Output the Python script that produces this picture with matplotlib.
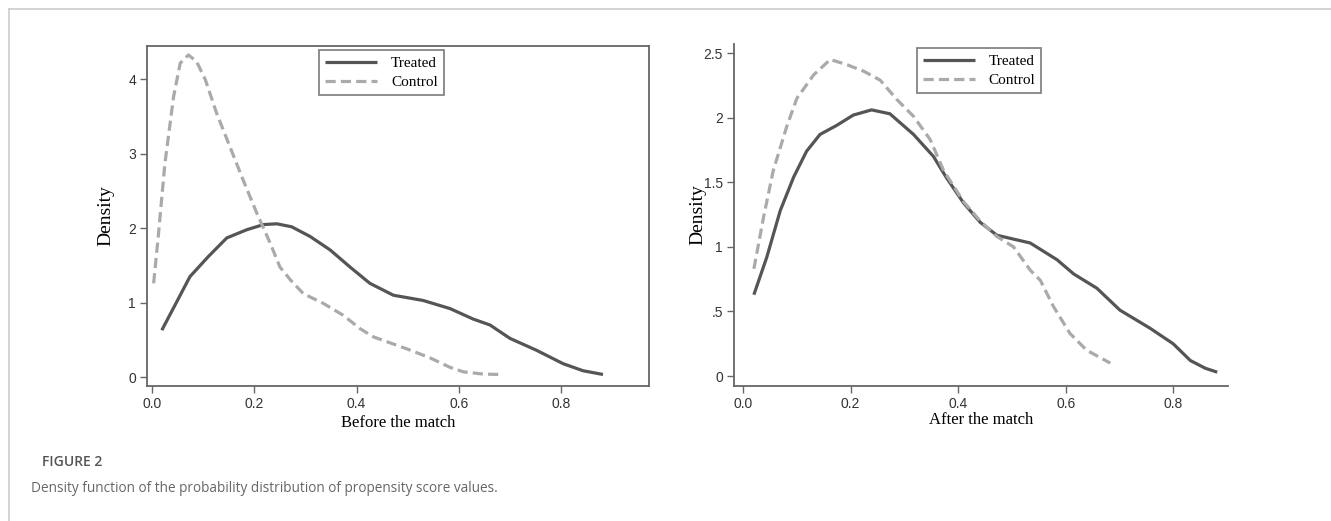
import matplotlib
matplotlib.use("Agg")
import matplotlib.pyplot as plt
from matplotlib.lines import Line2D

# Before the match
before_treated_x = [0.019, 0.074, 0.110, 0.146, 0.185, 0.218, 0.244, 0.273, 0.309, 0.348,
                    0.387, 0.426, 0.472, 0.530, 0.583, 0.628, 0.661, 0.700, 0.752, 0.804,
                    0.843, 0.882]
before_treated_y = [0.63, 1.35, 1.62, 1.87, 1.98, 2.05, 2.06, 2.02, 1.89, 1.71,
                    1.48, 1.26, 1.10, 1.03, 0.92, 0.78, 0.70, 0.52, 0.36, 0.18,
                    0.085, 0.035]
before_control_x = [0.003, 0.012, 0.025, 0.042, 0.055, 0.071, 0.087, 0.104, 0.126, 0.152,
                    0.178, 0.205, 0.231, 0.250, 0.270, 0.296, 0.335, 0.374, 0.407, 0.433,
                    0.498, 0.543, 0.583, 0.609, 0.648, 0.680]
before_control_y = [1.26, 1.89, 2.87, 3.77, 4.22, 4.33, 4.24, 4.00, 3.55, 3.10,
                    2.65, 2.20, 1.80, 1.48, 1.31, 1.12, 0.99, 0.83, 0.65, 0.54,
                    0.38, 0.26, 0.13, 0.07, 0.04, 0.035]

# After the match
after_treated_x = [0.020, 0.044, 0.069, 0.094, 0.118, 0.143, 0.174, 0.205, 0.239, 0.273,
                   0.317, 0.354, 0.379, 0.410, 0.441, 0.472, 0.534, 0.584, 0.615, 0.658,
                   0.701, 0.757, 0.800, 0.832, 0.860, 0.882]
after_treated_y = [0.63, 0.92, 1.28, 1.54, 1.74, 1.87, 1.94, 2.02, 2.06, 2.03,
                   1.87, 1.70, 1.53, 1.34, 1.19, 1.09, 1.03, 0.90, 0.79, 0.68,
                   0.51, 0.37, 0.25, 0.12, 0.06, 0.03]
after_control_x = [0.020, 0.038, 0.056, 0.081, 0.100, 0.131, 0.162, 0.193, 0.224, 0.255,
                   0.286, 0.317, 0.348, 0.373, 0.410, 0.441, 0.472, 0.503, 0.534, 0.553,
                   0.577, 0.608, 0.639, 0.683]
after_control_y = [0.83, 1.23, 1.59, 1.93, 2.15, 2.33, 2.45, 2.41, 2.36, 2.29,
                   2.14, 2.01, 1.83, 1.59, 1.35, 1.20, 1.08, 1.00, 0.82, 0.74,
                   0.54, 0.33, 0.20, 0.10]

x_ticks = [0.0, 0.2, 0.4, 0.6, 0.8]
x_tick_labels = ["0.0", "0.2", "0.4", "0.6", "0.8"]
before_y_ticks = [0, 1, 2, 3, 4]
before_y_labels = ["0", "1", "2", "3", "4"]
after_y_ticks = [0, 0.5, 1, 1.5, 2, 2.5]
after_y_labels = ["0", ".5", "1", "1.5", "2", "2.5"]

TREATED = "#555555"
CONTROL = "#aaaaaa"
SERIF = ["Liberation Serif", "DejaVu Serif"]
SANS = ["Liberation Sans", "DejaVu Sans"]

fig = plt.figure(figsize=(13.31, 5.21), dpi=100)
fig.patch.set_facecolor("white")

# thin outer frame, top and left only
fig.add_artist(Line2D([9 / 1331, 1.0], [1 - 9 / 521, 1 - 9 / 521],
                      transform=fig.transFigure, color="#cccccc", lw=1.2))
fig.add_artist(Line2D([9 / 1331, 9 / 1331], [0.0, 1 - 9 / 521],
                      transform=fig.transFigure, color="#cccccc", lw=1.2))

ax1 = fig.add_axes([147 / 1331, 1 - 386 / 521, 502 / 1331, 340 / 521])
ax2 = fig.add_axes([734 / 1331, 1 - 386 / 521, 494 / 1331, 342 / 521])


def style(ax, full_box):
    for side in ["left", "bottom", "top", "right"]:
        ax.spines[side].set_color("#666666")
        ax.spines[side].set_linewidth(1.3)
    if not full_box:
        ax.spines["top"].set_visible(False)
        ax.spines["right"].set_visible(False)
    ax.tick_params(axis="both", direction="out", length=5, width=1,
                   color="#666666", labelcolor="#333333", labelsize=10, pad=3)
    for lab in ax.get_xticklabels() + ax.get_yticklabels():
        lab.set_family(SANS)


def draw(ax, tx, ty, cx, cy):
    ax.plot(tx, ty, color=TREATED, lw=2.3, solid_capstyle="butt",
            solid_joinstyle="round", label="Treated")
    ax.plot(cx, cy, color=CONTROL, lw=2.3, dashes=(3.2, 1.6),
            label="Control")


draw(ax1, before_treated_x, before_treated_y, before_control_x, before_control_y)
ax1.set_xlim(-0.01, 0.972)
ax1.set_ylim(-0.12, 4.45)
ax1.set_xticks(x_ticks)
ax1.set_xticklabels(x_tick_labels)
ax1.set_yticks(before_y_ticks)
ax1.set_yticklabels(before_y_labels)
style(ax1, True)
ax1.set_ylabel("Density", family=SERIF, fontsize=14, labelpad=10)
ax1.set_xlabel("Before the match", family=SERIF, fontsize=12, labelpad=3)

draw(ax2, after_treated_x, after_treated_y, after_control_x, after_control_y)
ax2.set_xlim(-0.017, 0.902)
ax2.set_ylim(-0.077, 2.57)
ax2.set_xticks(x_ticks)
ax2.set_xticklabels(x_tick_labels)
ax2.set_yticks(after_y_ticks)
ax2.set_yticklabels(after_y_labels)
style(ax2, False)
ax2.set_ylabel("Density", family=SERIF, fontsize=14, labelpad=-2)
ax2.set_xlabel("After the match", family=SERIF, fontsize=12, labelpad=1)

for ax, x0 in [(ax1, 0.343), (ax2, 0.370)]:
    leg = ax.legend(loc="upper left", bbox_to_anchor=(x0, 0.988),
                    prop={"family": SERIF, "size": 11}, frameon=True,
                    fancybox=False, shadow=False, handlelength=3.4,
                    handletextpad=0.9, borderpad=0.4, labelspacing=0.35,
                    borderaxespad=0)
    leg.get_frame().set_edgecolor("#666666")
    leg.get_frame().set_linewidth(1.3)

fig.text(42 / 1331, 1 - 462 / 521, "FIGURE 2", family=["Open Sans", "DejaVu Sans"],
         fontsize=10, fontweight="semibold", color="#555555", va="center", ha="left")
fig.text(31 / 1331, 1 - 488 / 521,
         "Density function of the probability distribution of propensity score values.",
         family=["Open Sans", "DejaVu Sans"], fontsize=9.8, color="#666666",
         va="center", ha="left")

fig.savefig("out.png", dpi=100)
